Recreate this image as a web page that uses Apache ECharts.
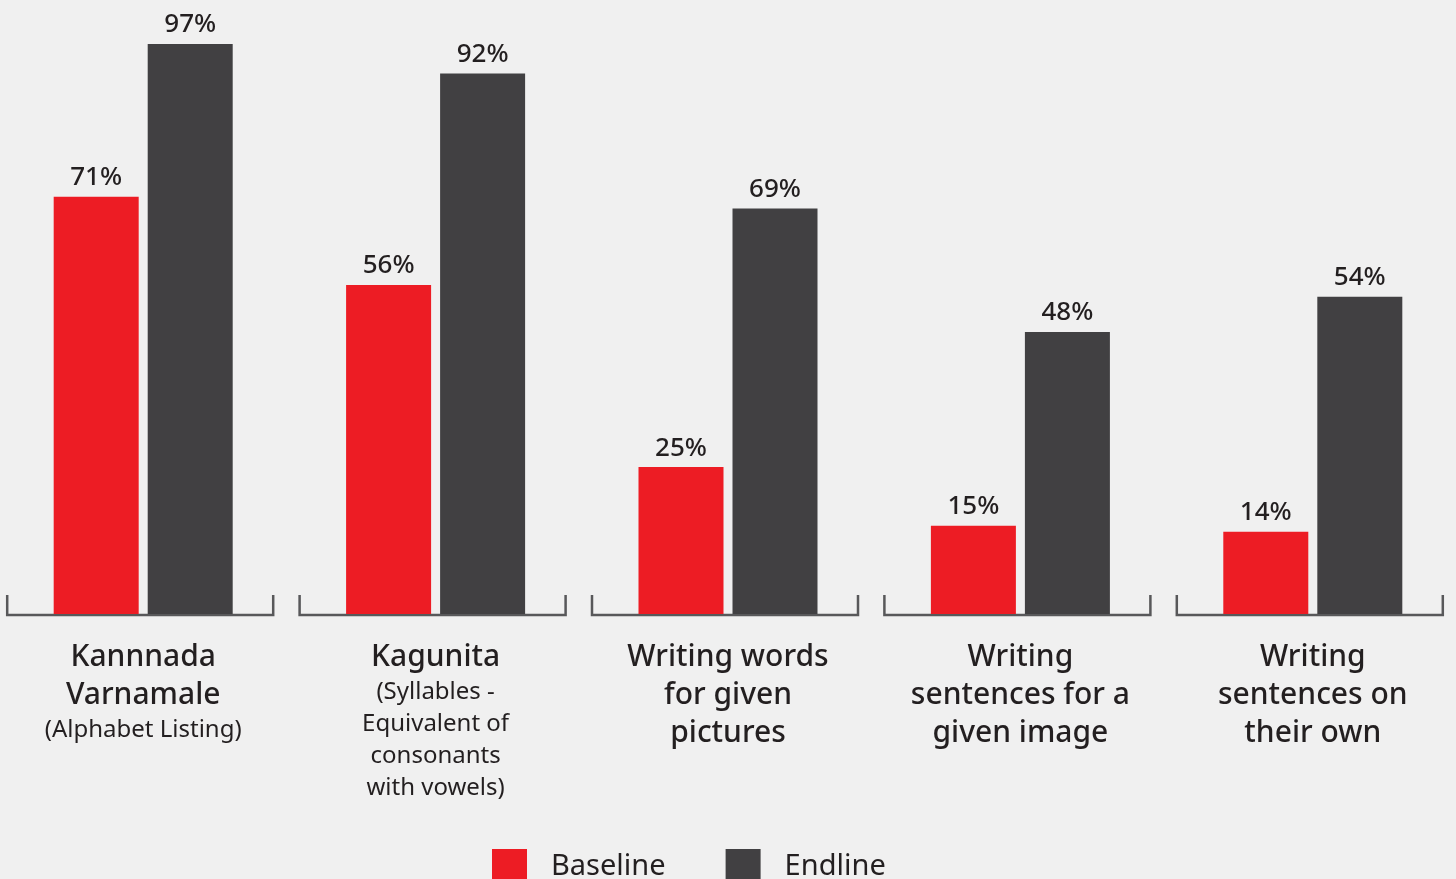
<!DOCTYPE html>
<html>
<head>
<meta charset="utf-8">
<script src="https://cdn.jsdelivr.net/npm/echarts@6/dist/echarts.min.js"></script>
<style>
  html, body { margin: 0; padding: 0; background: #f0f0f0; }
  #chart { width: 1456px; height: 879px; }
</style>
</head>
<body>
<div id="chart"></div>
<script>
// category titles (bold lines) and subtitles (light lines)
let categoryTitles = [
    ["Kannnada", "Varnamale"],
    ["Kagunita"],
    ["Writing words", "for given", "pictures"],
    ["Writing", "sentences for a", "given image"],
    ["Writing", "sentences on", "their own"]
];
let categorySubtitles = [
    ["(Alphabet Listing)"],
    ["(Syllables -", "Equivalent of", "consonants", "with vowels)"],
    [],
    [],
    []
];

let baselineValues = [71, 56, 25, 15, 14];
let endlineValues = [97, 92, 69, 48, 54];

let seriesNames = ["Baseline", "Endline"];

let categories = categoryTitles.map(function (t, i) { return "c" + i; });

let fontName = "'Noto Sans', Lato, sans-serif";

// build rich label text for a category
function category_label(value, idx) {
    let lines = categoryTitles[idx].map(function (s) { return "{t|" + s + "}"; });
    categorySubtitles[idx].forEach(function (s) { lines.push("{s|" + s + "}"); });
    return lines.join("\n");
}

// bracket under each category group
function render_bracket(params, api) {
    let pt = api.coord([api.value(0), 0]);
    let half = 133;
    let cx = pt[0] - 3;
    let y = pt[1] + 1;
    return {
        type: "polyline",
        shape: {
            points: [[cx - half, y - 20], [cx - half, y], [cx + half, y], [cx + half, y - 20]]
        },
        style: { stroke: "#58585a", lineWidth: 2.5, fill: null }
    };
}

let chart = echarts.init(document.getElementById("chart"));

let valueLabel = {
    show: true,
    position: "top",
    distance: 6,
    formatter: "{c}%",
    fontFamily: fontName,
    fontSize: 26,
    fontWeight: 500,
    color: "#231f20"
};

let option = {
    backgroundColor: "#f0f0f0",
    animation: false,
    grid: { left: -3, width: 1462, top: 26.4, bottom: 265, outerBoundsMode: "none" },
    legend: {
        data: seriesNames,
        bottom: -10,
        left: 487,
        itemWidth: 35,
        itemHeight: 35,
        itemGap: 60,
        icon: "rect",
        textStyle: {
            fontFamily: fontName,
            fontSize: 29,
            color: "#231f20",
            padding: [0, 0, 0, 19]
        }
    },
    xAxis: {
        type: "category",
        data: categories,
        axisLine: { show: false },
        axisTick: { show: false },
        axisLabel: {
            interval: 0,
            margin: 24,
            formatter: category_label,
            rich: {
                t: { fontFamily: fontName, fontSize: 30, fontWeight: 500, color: "#231f20", lineHeight: 38, align: "center" },
                s: { fontFamily: fontName, fontSize: 24, color: "#231f20", lineHeight: 32, align: "center" }
            }
        }
    },
    yAxis: {
        type: "value",
        min: 0,
        max: 100,
        show: false,
        splitLine: { show: false }
    },
    series: [
        {
            type: "custom",
            renderItem: render_bracket,
            data: categories.map(function (c, i) { return [i, 0]; }),
            z: 1,
            silent: true
        },
        {
            name: seriesNames[0],
            type: "bar",
            data: baselineValues,
            barWidth: 85,
            barGap: "10.6%",
            itemStyle: { color: "#ed1c24" },
            z: 2,
            label: valueLabel
        },
        {
            name: seriesNames[1],
            type: "bar",
            data: endlineValues,
            barWidth: 85,
            itemStyle: { color: "#414042" },
            z: 2,
            label: valueLabel
        }
    ]
};

chart.setOption(option);
</script>
</body>
</html>
